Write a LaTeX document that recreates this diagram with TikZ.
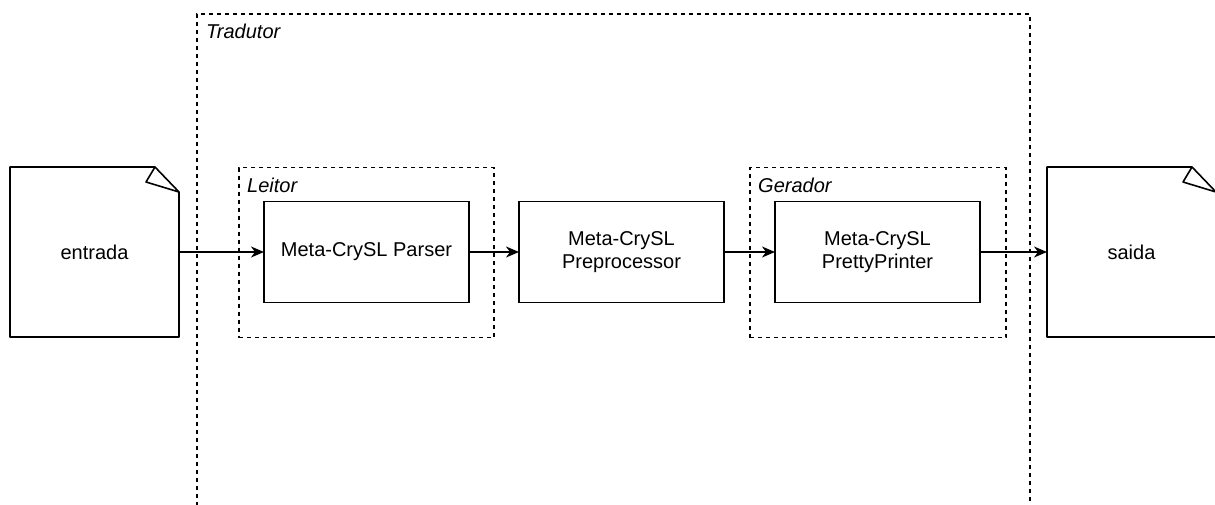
\documentclass[tikz,border=0pt]{standalone}
\usepackage{fontspec}
\setmainfont{Liberation Sans}
\usepackage{tikz}
\usetikzlibrary{positioning}
\usetikzlibrary{fit}
\usetikzlibrary{arrows.meta}

\begin{document}
\begin{tikzpicture}
		[x=1pt, y=1pt,
		 font=\fontsize{20}{23}\selectfont,
		 doc/.style={rectangle, outer sep=0pt, minimum width=169pt, minimum height=170pt},
		 proc/.style={rectangle, draw=black, line width=1.6pt, outer sep=0pt, align=center,
		              minimum width=205pt, minimum height=101pt},
		 group/.style={rectangle, draw=black, line width=1.3pt, dash pattern=on 4pt off 4pt,
		               inner sep=0pt, outer sep=0pt},
		 grouplabel/.style={anchor=base west, inner sep=0pt, font=\fontsize{20}{23}\selectfont\itshape},
		 flow/.style={-{Stealth[length=13pt, width=11pt, inset=4pt]}, line width=1.6pt}]
		\useasboundingbox (0,0) rectangle (1215,-504);

		% outer group
		\node[group, anchor=north west, minimum width=833pt, minimum height=510pt] (tradutor) at (197,-14) {};
		\node[grouplabel] (tradutorlbl) at ([xshift=9pt, yshift=-24pt]tradutor.north west) {Tradutor};

		\node[doc] (entrada) at (94.5,-252) {entrada};
		\node[proc, right=85pt of entrada] (parser) {Meta-CrySL Parser};
		\node[proc, right=50pt of parser] (preproc) {Meta-CrySL\\Preprocessor};
		\node[proc, right=51pt of preproc] (printer) {Meta-CrySL\\PrettyPrinter};
		\node[doc, right=67pt of printer] (saida) {saida};

		% inner groups
		\node[group, fit={([xshift=-25pt, yshift=34pt]parser.north west) ([xshift=25pt, yshift=-35pt]parser.south east)}] (leitor) {};
		\node[grouplabel] (leitorlbl) at ([xshift=8pt, yshift=-25pt]leitor.north west) {Leitor};
		\node[group, fit={([xshift=-25pt, yshift=34pt]printer.north west) ([xshift=26pt, yshift=-35pt]printer.south east)}] (gerador) {};
		\node[grouplabel] (geradorlbl) at ([xshift=8pt, yshift=-25pt]gerador.north west) {Gerador};

		% document outlines with curled corner
		\foreach \d in {entrada, saida} {
			\draw[line width=1.6pt, line join=round]
				(\d.south west) -- (\d.north west) -- ([xshift=-24pt]\d.north east)
				-- ([yshift=-25pt]\d.north east) -- (\d.south east) -- cycle;
			\draw[line width=1.6pt, line join=round]
				([xshift=-24pt]\d.north east) .. controls ([xshift=-29pt, yshift=-8pt]\d.north east)
				.. ([xshift=-33pt, yshift=-15pt]\d.north east) -- ([yshift=-25pt]\d.north east);
		}

		\draw[flow] (entrada) -- (parser);
		\draw[flow] (parser) -- (preproc);
		\draw[flow] (preproc) -- (printer);
		\draw[flow] (printer) -- (saida);
	\end{tikzpicture}
\end{document}
